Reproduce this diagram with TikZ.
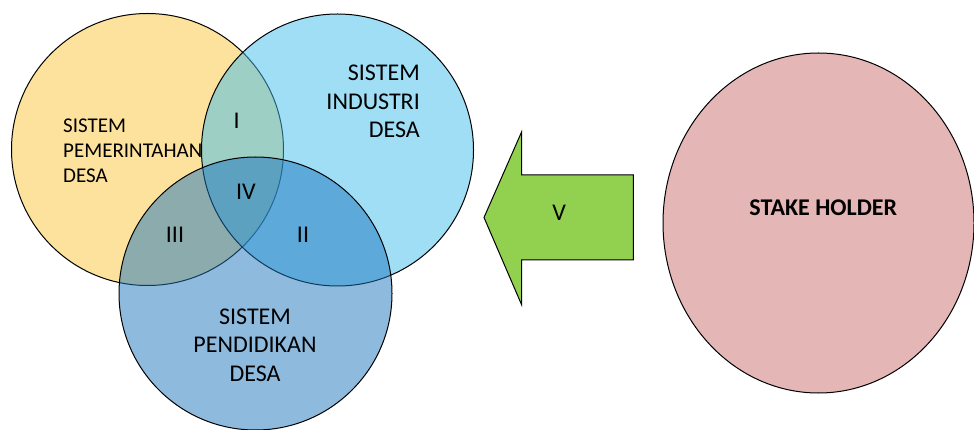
\documentclass[tikz,border=0pt]{standalone}
\usepackage{fontspec}
\setmainfont{Carlito}
\usetikzlibrary{shapes.geometric}
\definecolor{cyellow}{RGB}{252,226,157}
\definecolor{clblue}{RGB}{63,189,235}
\definecolor{cdblue}{RGB}{29,117,189}
\definecolor{cpink}{RGB}{229,182,182}
\definecolor{cgreen}{RGB}{146,208,80}
\tikzset{
  venn/.style={circle, inner sep=0pt, draw=black, line width=1pt},
  lbl/.style={inner sep=0pt, font=\fontsize{24}{28.5}\selectfont},
  lblsmall/.style={inner sep=0pt, font=\fontsize{21}{25.2}\selectfont},
}
\begin{document}
\begin{tikzpicture}[x=1pt,y=-1pt]
\useasboundingbox (0,0) rectangle (974,430);
% circles
\node[venn, fill=cyellow, minimum size=272] (pem) at (147.5,149.5) {};
\node[venn, fill=clblue, fill opacity=0.5, minimum size=272] (ind) at (337.5,150) {};
\node[venn, fill=cdblue, fill opacity=0.5, minimum size=273] (pend) at (255.5,293.5) {};
% labels
\node[lblsmall, anchor=north west, align=left] (tpem) at (63,118.3) {SISTEM\\PEMERINTAHAN\\DESA};
\node[lbl, anchor=north east, align=right] (tind) at (420,65) {SISTEM\\INDUSTRI\\DESA};
\node[lbl, anchor=north, align=center] (tpend) at (255,308.3) {SISTEM\\PENDIDIKAN\\DESA};
\node[lbl] (r1) at (236.7,120.5) {I};
\node[lbl] (r4) at (246,192) {IV};
\node[lbl] (r3) at (175,234.7) {III};
\node[lbl] (r2) at (303,234.7) {II};
% arrow
\coordinate (tip) at (484,217.5);
\coordinate (ht) at (521.7,131.7);
\coordinate (hb) at (521.7,305);
\coordinate (bt) at (521.7,175);
\coordinate (bb) at (521.7,260);
\coordinate (rt) at (633.3,175);
\coordinate (rb) at (633.3,260);
\draw[fill=cgreen, line width=1pt, line join=miter] (tip) -- (ht) -- (bt) -- (rt) -- (rb) -- (bb) -- (hb) -- cycle;
\node[lbl] (tv) at (559.3,213.3) {V};
% stake holder
\node[ellipse, inner sep=0pt, draw=black, line width=1pt, fill=cpink, minimum width=311, minimum height=340] (stake) at (818.5,223) {};
\node[lbl, font=\fontsize{24}{28.5}\selectfont\bfseries] (tstake) at (823.3,207.5) {STAKE HOLDER};
\end{tikzpicture}
\end{document}
